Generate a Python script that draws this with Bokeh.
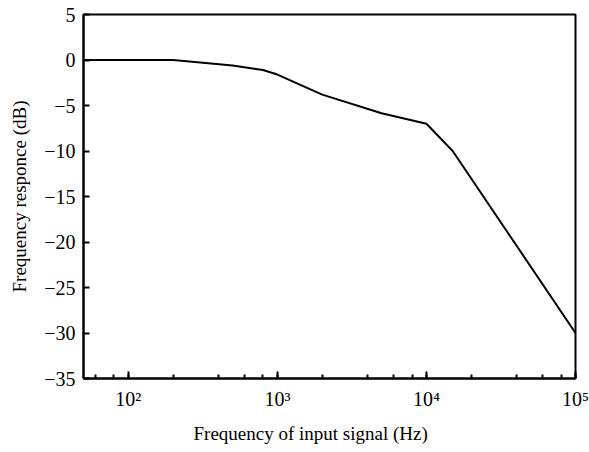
from bokeh.plotting import figure
from bokeh.models import FixedTicker, LogTicker, Range1d, Title
from bokeh.embed import file_html
from bokeh.resources import INLINE

freq_hz = [50, 200, 500, 800, 1000, 2000, 5000, 10000, 15000, 100000]
response_db = [0.0, 0.0, -0.6, -1.1, -1.6, -3.8, -5.85, -7.0, -10.0, -30.0]

y_ticks = [5, 0, -5, -10, -15, -20, -25, -30, -35]
x_major = [100, 1000, 10000, 100000]
x_labels = ["10\u00b2", "10\u00b3", "10\u2074", "10\u2075"]

FONT = "Liberation Serif"

p = figure(width=589, height=452, x_axis_type="log",
           x_range=Range1d(50, 100000), y_range=Range1d(-35, 5),
           output_backend="svg", toolbar_location=None,
           min_border_left=83, min_border_right=14, min_border_top=14, min_border_bottom=74)

p.line(freq_hz, response_db, line_color="black", line_width=2)

p.grid.visible = False
p.outline_line_color = "black"
p.outline_line_width = 2
p.background_fill_color = "white"
p.border_fill_color = "white"

xa = p.xaxis[0]
xa.ticker = LogTicker(desired_num_ticks=4)
xa.major_label_overrides = {v: l for v, l in zip(x_major, x_labels)}
xa.major_tick_in = 7
xa.major_tick_out = 0
xa.minor_tick_in = 4
xa.minor_tick_out = 0
xa.axis_line_width = 2
xa.major_tick_line_width = 2
xa.minor_tick_line_width = 2
xa.major_label_text_font = FONT
xa.major_label_text_font_size = "20px"
xa.major_label_text_color = "black"
xa.major_label_standoff = 9

ya = p.yaxis[0]
ya.ticker = FixedTicker(ticks=y_ticks)
ya.major_label_overrides = {v: (str(v).replace("-", "\u2212")) for v in y_ticks}
ya.major_tick_in = 6
ya.major_tick_out = 0
ya.minor_tick_line_color = None
ya.axis_line_width = 2
ya.major_tick_line_width = 2
ya.major_label_text_font = FONT
ya.major_label_text_font_size = "20px"
ya.major_label_text_color = "black"
ya.major_label_standoff = 8
ya.axis_label = "Frequency responce (dB)"
ya.axis_label_text_font = FONT
ya.axis_label_text_font_size = "19px"
ya.axis_label_text_font_style = "normal"
ya.axis_label_text_color = "black"
ya.axis_label_standoff = 11

xt = Title(text="Frequency of input signal (Hz)", align="left", offset=110,
           text_font=FONT, text_font_size="19px", text_font_style="normal",
           text_color="black", standoff=16)
p.add_layout(xt, "below")

open("out.html", "w").write(file_html(p, INLINE))
